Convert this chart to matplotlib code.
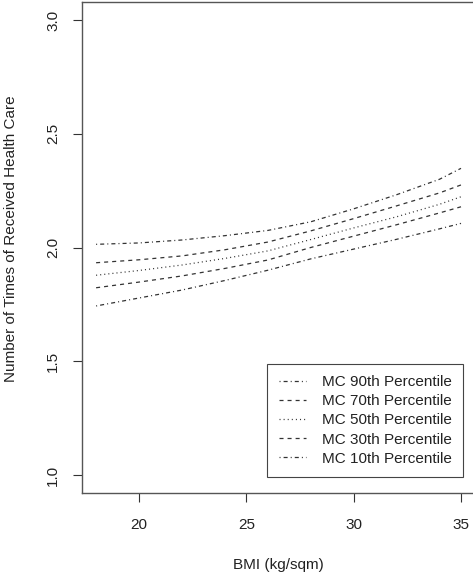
import matplotlib
matplotlib.use("Agg")
import matplotlib.pyplot as plt

plt.rcParams['font.family'] = ['Liberation Sans', 'DejaVu Sans']
plt.rcParams['lines.scale_dashes'] = False

# BMI grid and predicted counts for each percentile curve
bmi = [18, 20, 22, 24, 26, 28, 30, 32, 34, 35]
p90 = [2.014, 2.020, 2.033, 2.052, 2.075, 2.113, 2.170, 2.232, 2.300, 2.348]
p70 = [1.933, 1.946, 1.963, 1.990, 2.024, 2.073, 2.127, 2.183, 2.240, 2.275]
p50 = [1.878, 1.899, 1.923, 1.952, 1.985, 2.035, 2.086, 2.135, 2.190, 2.223]
p30 = [1.823, 1.848, 1.875, 1.908, 1.945, 2.000, 2.050, 2.100, 2.152, 2.179]
p10 = [1.743, 1.778, 1.813, 1.855, 1.900, 1.950, 1.993, 2.036, 2.082, 2.106]

labels = ['MC 90th Percentile', 'MC 70th Percentile', 'MC 50th Percentile',
          'MC 30th Percentile', 'MC 10th Percentile']
xticks = [20, 25, 30, 35]
yticks = [1.0, 1.5, 2.0, 2.5, 3.0]

dotdash = (0, (0.75, 2.2, 2.9, 2.2))
dashed = (0, (2.9, 2.9))
dotted = (0, (0.75, 2.2))
styles = [dotdash, dashed, dotted, dashed, dotdash]

fig = plt.figure(figsize=(4.73, 5.77), dpi=100)
ax = fig.add_axes([81.5 / 473, 83.8 / 577, 394.1 / 473, 491.4 / 577])

for y, ls, lab in zip([p90, p70, p50, p30, p10], styles, labels):
    ax.plot(bmi, y, color='#333333', lw=0.9, linestyle=ls, label=lab)

ax.set_xlim(17.32, 35.68)
ax.set_ylim(0.92, 3.08)
ax.set_xticks(xticks)
ax.set_xticklabels([str(t) for t in xticks])
ax.set_yticks(yticks)
ax.set_yticklabels([f'{t:.1f}' for t in yticks], rotation=90, va='center')

for s in ax.spines.values():
    s.set_color('#555555')
    s.set_linewidth(1.0)
ax.tick_params(length=6.5, width=0.8, color='#333333', labelsize=11, labelcolor='#222222')
ax.tick_params(axis='x', pad=11)
ax.tick_params(axis='y', pad=9)

ax.set_xlabel('BMI (kg/sqm)', fontsize=11, color='#222222')
ax.xaxis.set_label_coords(0.5, -0.131)
ax.set_ylabel('Number of Times of Received Health Care', fontsize=11, color='#222222')
ax.yaxis.set_label_coords(-0.161, 0.517)

leg = ax.legend(loc='lower right', bbox_to_anchor=(463 / 473, 100 / 577),
                bbox_transform=fig.transFigure, borderaxespad=0,
                fancybox=False, framealpha=1, edgecolor='#444444',
                fontsize=11, handlelength=1.8, handletextpad=1.0,
                labelspacing=0.33, borderpad=0.75)
leg.get_frame().set_linewidth(0.8)
for t in leg.get_texts():
    t.set_color('#222222')

fig.savefig('out.png', dpi=100)
